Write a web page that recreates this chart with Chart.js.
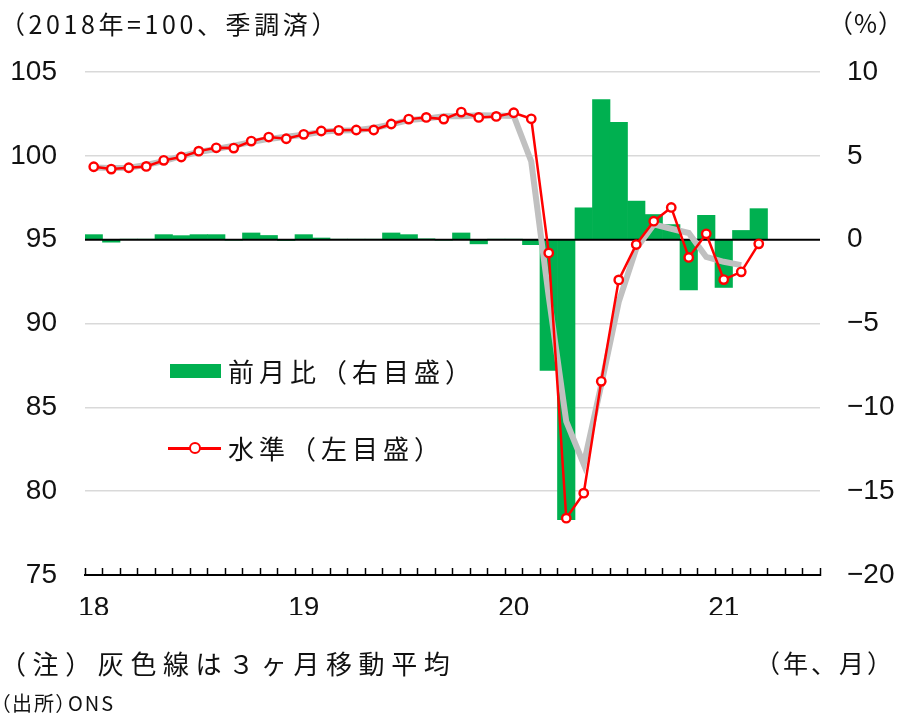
<!DOCTYPE html>
<html lang="ja">
<head>
<meta charset="utf-8">
<script src="https://cdn.jsdelivr.net/npm/chart.js@4.4.1/dist/chart.umd.min.js"></script>
<style>
  html, body { margin: 0; padding: 0; background: #fff; }
  #wrap { position: relative; width: 897px; height: 713px; overflow: hidden; }
  #chart { position: absolute; left: 0; top: 0; }
  .txt { position: absolute; white-space: nowrap; color: #111;
         font-family: "Noto Sans CJK JP", "Noto Sans", sans-serif; line-height: 1; }
  #title { left: 0; top: 11px; font-size: 25px; letter-spacing: 3.6px; }
  #unitR { left: 828px; top: 10px; font-size: 25px; letter-spacing: 1px; }
  #note { left: 0; top: 650px; font-size: 26px; letter-spacing: 6.6px; }
  #unitX { left: 755px; top: 650px; font-size: 25px; letter-spacing: 3px; }
  #src { left: 0; top: 693px; font-size: 20px; letter-spacing: 2px; font-feature-settings: "palt"; }
  .leg { position: absolute; left: 228px; font-size: 26px; letter-spacing: 5px; }
  #legBar { position: absolute; left: 170px; top: 364px; width: 51px; height: 14px; background: #00b050; }
  #legLine { position: absolute; left: 168px; top: 447px; width: 53px; height: 2.5px; background: #ff0000; }
  #legDot { position: absolute; left: 189px; top: 442px; width: 8px; height: 8px; border: 2.3px solid #ff0000;
            border-radius: 50%; background: #fff; }
</style>
</head>
<body>
<div id="wrap">
  <canvas id="chart" width="897" height="713"></canvas>
  <div class="txt" id="title">（2018年=100、季調済）</div>
  <div class="txt" id="unitR">（%）</div>
  <div id="legBar"></div>
  <div class="txt leg" style="top:358px">前月比（右目盛）</div>
  <div id="legLine"></div>
  <div id="legDot"></div>
  <div class="txt leg" style="top:435px">水準（左目盛）</div>
  <div class="txt" id="note">（注）灰色線は３ヶ月移動平均</div>
  <div class="txt" id="unitX">（年、月）</div>
  <div class="txt" id="src">（出所）ONS</div>
</div>
<script>
// 月（2018年1月〜2021年6月）
const meses = [
  '18/1','18/2','18/3','18/4','18/5','18/6','18/7','18/8','18/9','18/10','18/11','18/12',
  '19/1','19/2','19/3','19/4','19/5','19/6','19/7','19/8','19/9','19/10','19/11','19/12',
  '20/1','20/2','20/3','20/4','20/5','20/6','20/7','20/8','20/9','20/10','20/11','20/12',
  '21/1','21/2','21/3','21/4','21/5','21/6'
];
// 年ラベル（各年1月の位置）
const rotulosAno = { '18/1': '18', '19/1': '19', '20/1': '20', '21/1': '21' };

// 水準（左目盛）
const nivel = [
  99.35, 99.21, 99.29, 99.37, 99.73, 99.93, 100.28, 100.48, 100.46, 100.88, 101.12, 101.02,
  101.28, 101.48, 101.52, 101.54, 101.54, 101.90, 102.19, 102.29, 102.19, 102.61, 102.29, 102.35,
  102.57, 102.21, 94.21, 78.39, 79.88, 86.55, 92.60, 94.71, 96.10, 96.92, 93.94, 95.35,
  92.62, 93.08, 94.75
];
// 3ヶ月移動平均（灰色線）
const media3m = [
  99.30, 99.28, 99.29, 99.46, 99.68, 99.98, 100.23, 100.41, 100.61, 100.82, 101.01, 101.14,
  101.26, 101.43, 101.51, 101.53, 101.66, 101.88, 102.13, 102.22, 102.36, 102.36, 102.42, 102.40,
  102.38, 99.66, 91.60, 84.16, 81.61, 86.34, 91.29, 94.47, 95.91, 95.65, 95.40, 93.97,
  93.68, 93.48
];
// 前月比（右目盛、%）
const variacao = [
  0.30, -0.15, 0.03, 0.03, 0.30, 0.24, 0.30, 0.30, -0.02, 0.40, 0.25, -0.05,
  0.30, 0.10, 0.03, 0.02, 0.02, 0.40, 0.30, 0.05, -0.03, 0.40, -0.25, 0.03,
  0.03, -0.30, -7.80, -16.70, 1.90, 8.35, 7.00, 2.30, 1.50, 0.90, -3.00, 1.45,
  -2.85, 0.55, 1.85
];

const fonteNum = { family: '"Liberation Sans Narrow", "Liberation Sans", sans-serif', size: 28 };

// ゼロ線（棒の上、線の下に引く）
const linhaZero = {
  id: 'linhaZero',
  afterDatasetDraw(chart, args) {
    if (args.meta.type !== 'bar') return;
    const y = chart.scales.y.getPixelForValue(95);
    const { left, right } = chart.chartArea;
    const ctx = chart.ctx;
    ctx.save();
    ctx.strokeStyle = '#000';
    ctx.lineWidth = 2;
    ctx.beginPath();
    ctx.moveTo(left, y);
    ctx.lineTo(right, y);
    ctx.stroke();
    ctx.restore();
  }
};

const config = {
  type: 'bar',
  data: {
    labels: meses,
    datasets: [
      {
        type: 'line',
        label: '水準（左目盛）',
        data: nivel,
        yAxisID: 'y',
        borderColor: '#ff0000',
        borderWidth: 2.5,
        pointRadius: 4.2,
        pointBorderWidth: 2.4,
        pointBackgroundColor: '#fff',
        pointBorderColor: '#ff0000',
        tension: 0,
        order: 0
      },
      {
        type: 'line',
        label: '3ヶ月移動平均',
        data: media3m,
        yAxisID: 'y',
        borderColor: '#c0c0c0',
        borderWidth: 6,
        pointRadius: 0,
        tension: 0,
        order: 1
      },
      {
        type: 'bar',
        label: '前月比（右目盛）',
        data: variacao,
        yAxisID: 'y2',
        backgroundColor: '#00b050',
        barPercentage: 1,
        categoryPercentage: 1,
        order: 2
      }
    ]
  },
  options: {
    responsive: false,
    devicePixelRatio: 1,
    animation: false,
    layout: { padding: { left: 0, right: 0, top: 72, bottom: 98 } },
    plugins: {
      legend: { display: false },
      tooltip: { enabled: false }
    },
    scales: {
      x: {
        offset: true,
        grid: {
          offset: true,
          drawOnChartArea: false,
          drawTicks: true,
          tickLength: -7,
          tickColor: '#000',
          tickWidth: 1.5
        },
        border: { display: true, color: '#000', width: 2 },
        ticks: {
          autoSkip: false,
          maxRotation: 0,
          padding: 23,
          color: '#111',
          font: fonteNum,
          callback: function(v, i) { return rotulosAno[meses[i]] || ''; }
        },
        afterFit(scale) { scale.height = 40; }
      },
      y: {
        position: 'left',
        min: 75,
        max: 105,
        ticks: { stepSize: 5, padding: 28, color: '#111', font: fonteNum },
        grid: {
          drawTicks: false,
          lineWidth: 1.5,
          color: c => (c.tick && (c.tick.value === 95 || c.tick.value === 75)) ? 'rgba(0,0,0,0)' : '#d9d9d9'
        },
        border: { display: false },
        afterFit(scale) { scale.width = 85; }
      },
      y2: {
        position: 'right',
        min: -20,
        max: 10,
        ticks: {
          stepSize: 5,
          padding: 27,
          color: '#111',
          font: fonteNum,
          callback: v => v < 0 ? '\u2212' + Math.abs(v) : String(v)
        },
        grid: { drawOnChartArea: false, drawTicks: false },
        border: { display: false },
        afterFit(scale) { scale.width = 77; }
      }
    }
  },
  plugins: [linhaZero]
};

const grafico = new Chart(document.getElementById('chart'), config);
</script>
</body>
</html>
